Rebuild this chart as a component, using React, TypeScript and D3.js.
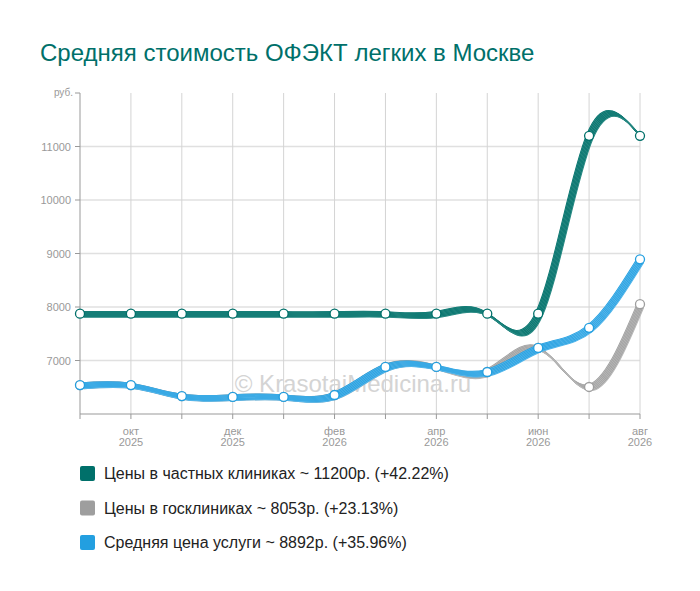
import * as d3 from "d3";

const months = ["сен", "окт", "ноя", "дек", "янв", "фев", "мар", "апр", "май", "июн", "июл", "авг"];
const years = ["2025", "2025", "2025", "2025", "2026", "2026", "2026", "2026", "2026", "2026", "2026", "2026"];

const privateVals = [7875, 7875, 7875, 7875, 7875, 7875, 7875, 7875, 7875, 7875, 11200, 11200];
const govVals = [6540, 6540, 6335, 6320, 6320, 6355, 6880, 6880, 6785, 7235, 6505, 8053];
const avgVals = [6540, 6540, 6335, 6320, 6320, 6355, 6880, 6880, 6785, 7235, 7610, 8892];

const yTicks = [7000, 8000, 9000, 10000, 11000];

const seriesNames = [
  "Цены в частных клиниках ~ 11200р. (+42.22%)",
  "Цены в госклиниках ~ 8053р. (+23.13%)",
  "Средняя цена услуги ~ 8892р. (+35.96%)",
];
const seriesColors = ["#00706a", "#9e9e9e", "#239fe0"];
const seriesLight = ["#2a8a84", "#b8b8b8", "#52b5ea"];

const W = 700;
const H = 591;
const font = "'Liberation Sans', Arial, sans-serif";

const App = () => {
  const x = d3.scaleLinear().domain([0, months.length - 1]).range([80, 640]);
  const y = d3.scaleLinear().domain([6000, 12000]).range([414, 93]);
  const line = d3
    .line<number>()
    .x((_, i) => x(i))
    .y((d) => y(d))
    .curve(d3.curveNatural);

  const series = [privateVals, govVals, avgVals];
  const offsets = d3.range(-2, 3.6, 0.5);

  return (
    <svg
      width={W}
      height={H}
      style={{ position: "absolute", left: 0, top: 0, background: "#fff" }}
      fontFamily={font}
    >
      <text x={40} y={61} fontSize={24} fill="#00706a">
        Средняя стоимость ОФЭКТ легких в Москве
      </text>

      {/* grid */}
      {yTicks.map((t) => (
        <line key={t} x1={80} x2={640} y1={y(t)} y2={y(t)} stroke="#e0e0e0" strokeWidth={1.5} />
      ))}
      {months.map((_, i) =>
        i === 0 ? null : (
          <line key={i} x1={x(i)} x2={x(i)} y1={y(12000)} y2={y(6000)} stroke="#d4d4d4" strokeWidth={1} />
        )
      )}

      {/* y axis */}
      <line x1={80} x2={80} y1={y(12000)} y2={y(6000)} stroke="#999" strokeWidth={1} />
      {[...yTicks, 12000].map((t) => (
        <line key={t} x1={75} x2={80} y1={y(t)} y2={y(t)} stroke="#999" />
      ))}
      {yTicks.map((t) => (
        <text key={t} x={71} y={y(t) + 4} fontSize={11} fill="#999" textAnchor="end">
          {t}
        </text>
      ))}
      <text x={73} y={y(12000) + 3} fontSize={10} fill="#999" textAnchor="end">
        руб.
      </text>

      {/* x axis */}
      <line x1={80} x2={640} y1={y(6000)} y2={y(6000)} stroke="#999" />
      {months.map((_, i) => (
        <line key={i} x1={x(i)} x2={x(i)} y1={y(6000)} y2={y(6000) + 5} stroke="#999" />
      ))}
      {months.map((m, i) =>
        i % 2 === 1 ? (
          <g key={i} fontSize={11} fill="#999" textAnchor="middle">
            <text x={x(i)} y={435}>{m}</text>
            <text x={x(i)} y={446}>{years[i]}</text>
          </g>
        ) : null
      )}

      {/* watermark */}
      <text x={353} y={392} fontSize={24} fill="#d4d4d4" textAnchor="middle">
        © KrasotaiMedicina.ru
      </text>

      {/* lines */}
      {series.map((vals, s) => (
        <g key={s}>
          {offsets.map((o, k) => (
            <path
              key={k}
              d={line(vals) || ""}
              transform={`translate(${o},${o})`}
              fill="none"
              stroke={k % 2 === 0 ? seriesColors[s] : seriesLight[s]}
              strokeWidth={1.2}
            />
          ))}
          {vals.map((v, i) => (
            <circle key={i} cx={x(i)} cy={y(v)} r={4.5} fill="#fff" stroke={seriesColors[s]} strokeWidth={1.3} />
          ))}
        </g>
      ))}

      {/* legend */}
      {seriesNames.map((n, i) => (
        <g key={i} transform={`translate(80, ${466 + i * 34.5})`}>
          <rect width={15} height={15} rx={2} fill={seriesColors[i]} />
          <text x={24} y={13} fontSize={16} fill="#222">
            {n}
          </text>
        </g>
      ))}
    </svg>
  );
};

export default App;
